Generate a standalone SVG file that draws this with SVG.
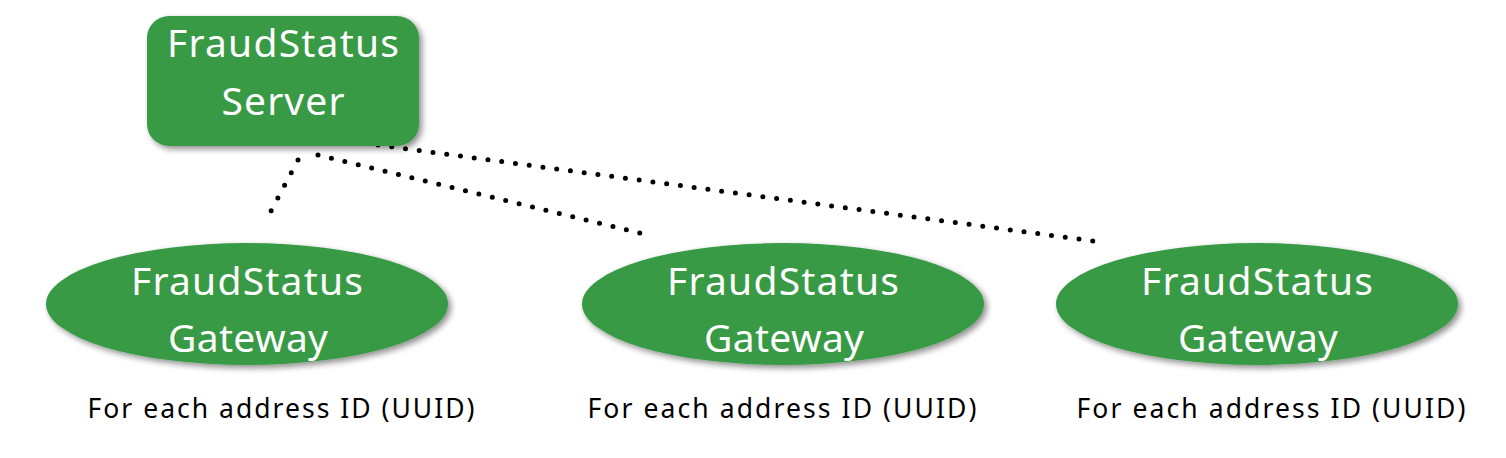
<svg xmlns="http://www.w3.org/2000/svg" width="1506" height="458" viewBox="0 0 1506 458">
<defs>
<filter id="sh" x="-10%" y="-10%" width="125%" height="130%">
<feGaussianBlur in="SourceAlpha" stdDeviation="3"/>
<feOffset dx="3" dy="3" result="b"/>
<feComponentTransfer><feFuncA type="linear" slope="0.45"/></feComponentTransfer>
<feMerge><feMergeNode/><feMergeNode in="SourceGraphic"/></feMerge>
</filter>
</defs>
<style>
.node{fill:#379a45;filter:url(#sh)}
.lbl{fill:#ffffff;font-family:"Noto Sans","Liberation Sans",sans-serif;font-size:39px;text-anchor:middle}
.cap{fill:#000000;font-family:"Noto Sans","Liberation Sans",sans-serif;font-size:26.5px;text-anchor:middle}
.dot{fill:none;stroke:#000;stroke-width:5;stroke-linecap:round;stroke-dasharray:0 1}
</style>
<rect width="1506" height="458" fill="#ffffff"/>
<g id="connectors">
<line class="dot" x1="298" y1="160" x2="271" y2="211" pathLength="4.02"/>
<line class="dot" x1="318" y1="155" x2="640" y2="233" pathLength="24.02"/>
<line class="dot" x1="378" y1="145" x2="1093" y2="241" pathLength="52.02"/>
</g>
<g id="server">
<rect class="node" x="147" y="16" width="272" height="130" rx="22"/>
<text class="lbl" x="283" y="57" textLength="232">FraudStatus</text>
<text class="lbl" x="283" y="115" textLength="123">Server</text>
</g>
<g id="gateway1">
<ellipse class="node" cx="247" cy="304" rx="201" ry="61"/>
<text class="lbl" x="247" y="295" textLength="232">FraudStatus</text>
<text class="lbl" x="248" y="352" textLength="160">Gateway</text>
<text class="cap" x="281" y="418" textLength="387">For each address ID (UUID)</text>
</g>
<g id="gateway2">
<ellipse class="node" cx="783" cy="304" rx="201" ry="61"/>
<text class="lbl" x="783" y="295" textLength="232">FraudStatus</text>
<text class="lbl" x="784" y="352" textLength="160">Gateway</text>
<text class="cap" x="782" y="418" textLength="389">For each address ID (UUID)</text>
</g>
<g id="gateway3">
<ellipse class="node" cx="1257" cy="304" rx="201" ry="61"/>
<text class="lbl" x="1257" y="295" textLength="232">FraudStatus</text>
<text class="lbl" x="1258" y="352" textLength="160">Gateway</text>
<text class="cap" x="1271" y="418" textLength="389">For each address ID (UUID)</text>
</g>
</svg>
